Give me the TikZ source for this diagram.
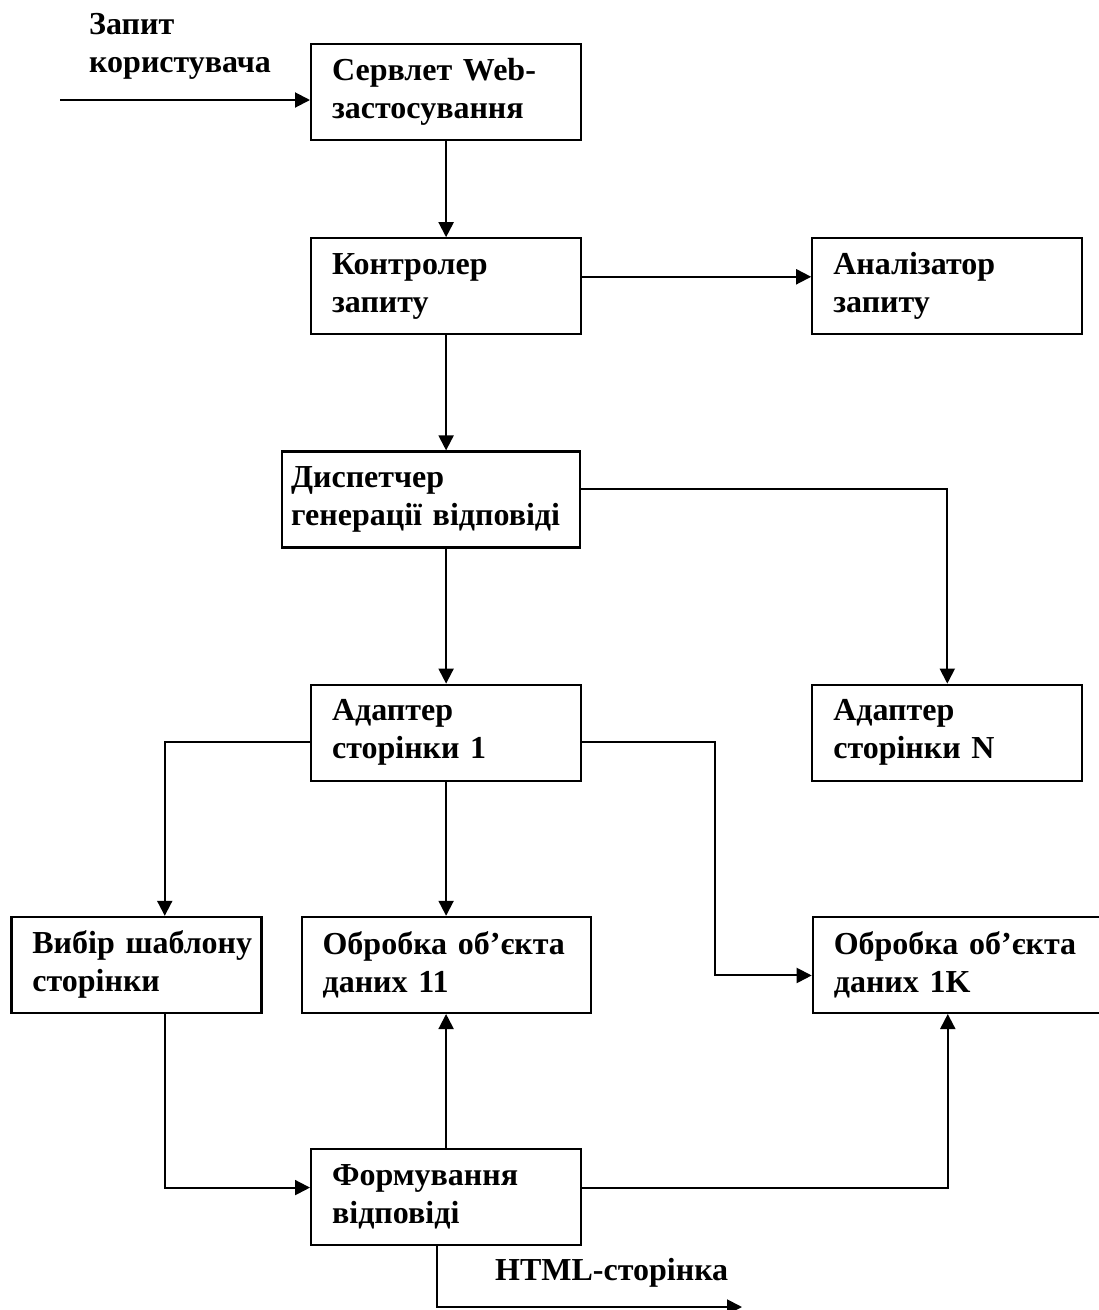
\documentclass[tikz,border=0pt]{standalone}
\usepackage{fontspec}
\setmainfont{Liberation Serif}
\usepackage{tikz}
\usetikzlibrary{positioning,arrows.meta}
\tikzset{strilka/.style={line width=2pt,-{Triangle[length=15pt,width=15pt]}}}

\begin{document}
\begin{tikzpicture}[x=1pt,y=-1pt,
blok/.style={draw, line width=2.2pt, minimum height=96pt, text width=#1, inner xsep=21pt, align=left, font=\fontsize{32pt}{38pt}\selectfont\bfseries},
napys/.style={inner sep=0pt, align=left, font=\fontsize{32pt}{38pt}\selectfont\bfseries},
]
\useasboundingbox (0,0) rectangle (1099,1310);
%Nodes
\node[blok=228pt, anchor=north west] (servlet) at (310,43) {Сервлет~Web-\\застосування};
\node[blok=228pt]  (kontroler)  [below=96pt of servlet] {Контролер\\запиту};
\node[blok=228pt]  (analizator) [right=229pt of kontroler] {Аналізатор\\запиту};
\node[blok=280pt, inner xsep=9pt] (dyspetcher) [below=115pt of kontroler, xshift=-15pt] {Диспетчер\\генерації~відповіді};
\node[blok=228pt]  (adapter1)   [below=135pt of dyspetcher, xshift=15pt] {Адаптер\\сторінки~1};
\node[blok=228pt]  (adapterN)   [right=229pt of adapter1] {Адаптер\\сторінки~N};
\node[blok=247pt]  (obrobka11)  [below=134pt of adapter1] {Обробка~об’єкта\\даних~11};
\node[blok=208pt]  (vybir)      [left=38pt of obrobka11] {Вибір~шаблону\\сторінки};
\node[blok=258pt]  (obrobka1K)  [right=220pt of obrobka11] {Обробка~об’єкта\\даних~1K};
\node[blok=228pt]  (formuv)     [below=134pt of obrobka11] {Формування\\відповіді};

\node[napys, anchor=north west] (zapyt) at (89,13) {Запит\\користувача};
\node[napys, anchor=base west]  (html)  at (495,1280) {HTML-сторінка};
\coordinate (vhid)  at (60,100);
\coordinate (vyhid) at (742,1307);

%Lines
\draw[strilka] (vhid) -- (vhid -| servlet.west);
\draw[strilka] (servlet.south) -- (kontroler.north);
\draw[strilka] (kontroler.4) -- (kontroler.4 -| analizator.west);
\draw[strilka] (kontroler.south) -- (kontroler.south |- dyspetcher.north);
\draw[strilka] (dyspetcher.4) -| (adapterN.north);
\draw[strilka] (dyspetcher.south -| adapter1.north) -- (adapter1.north);
\draw[strilka] (adapter1.184) -| (vybir.60);
\draw[strilka] (adapter1.south) -- (obrobka11.north);
\draw[strilka] (adapter1.-4) -- ++(133,0) |- (obrobka1K.184);
\draw[strilka] (vybir.-60) |- (formuv.176);
\draw[strilka] (formuv.north) -- (obrobka11.south);
\draw[strilka] (formuv.4) -| (obrobka1K.-107);
\draw[strilka] (formuv.-101) |- (vyhid);
\end{tikzpicture}
\end{document}
